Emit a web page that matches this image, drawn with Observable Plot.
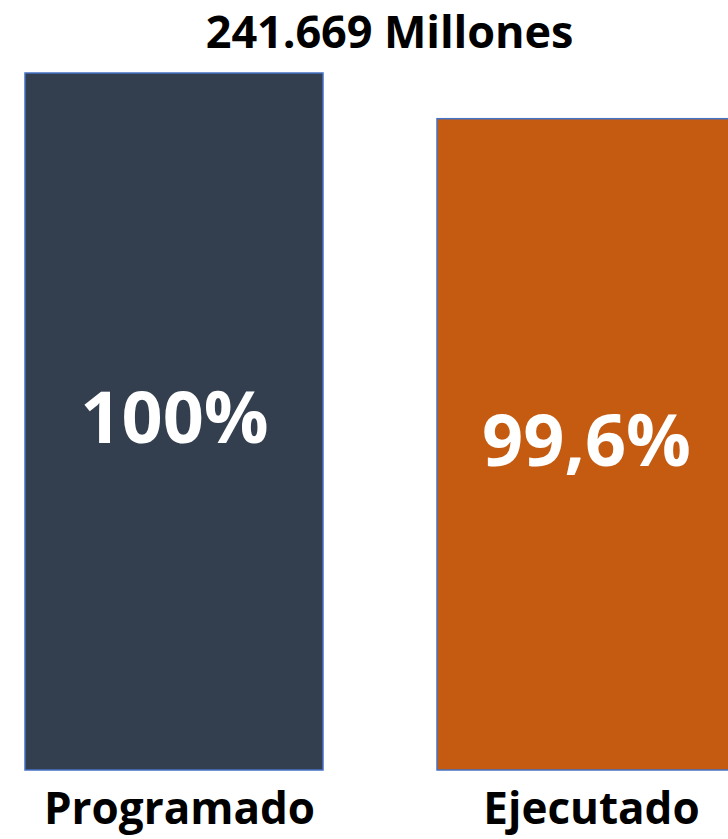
<!DOCTYPE html>
<html>
<head>
<meta charset="utf-8">
<script src="https://cdn.jsdelivr.net/npm/d3@7"></script>
<script src="https://cdn.jsdelivr.net/npm/@observablehq/plot@0.6"></script>
<style>
  html, body { margin: 0; padding: 0; background: #fff; overflow: hidden; }
  #title {
    width: 728px; box-sizing: border-box; padding-left: 51px;
    height: 60px; line-height: 61px; text-align: center;
    font-family: "Open Sans", Lato, sans-serif; font-weight: 700; font-size: 45px; color: #000;
    letter-spacing: -0.1px;
  }
</style>
</head>
<body>
<div id="title">241.669 Millones</div>
<div id="chart"></div>
<script>
const categories = ["Programado", "Ejecutado"];
const values = [100, 99.6];
const labels = ["100%", "99,6%"];
const colors = ["#333F4F", "#C55A11"];
const axisMin = 93.9; // truncated value axis, as in the original

const data = categories.map((c, i) => ({cat: c, value: values[i], label: labels[i], color: colors[i]}));

const chart = Plot.plot({
  width: 728,
  height: 779,
  marginTop: 13,
  marginBottom: 69,
  marginLeft: 0,
  marginRight: 0,
  style: {fontFamily: "'Open Sans', Lato, sans-serif", overflow: "visible"},
  x: {domain: categories, range: [24, 736], paddingInner: 0.276, paddingOuter: 0, label: null},
  y: {domain: [axisMin, 100], axis: null},
  marks: [
    Plot.rectY(data, {x: "cat", y1: axisMin, y2: "value", fill: "color", stroke: "#4472C4", strokeWidth: 1.5}),
    Plot.text(data, {x: "cat", y: d => (axisMin + d.value) / 2, text: "label", fill: "white", fontSize: 72, fontWeight: 700, dy: -2}),
    Plot.axisX({tickSize: 0, tickPadding: 22, dx: 5, fontSize: 44, fontWeight: 700, fill: "#000", label: null})
  ]
});
document.getElementById("chart").appendChild(chart);
</script>
</body>
</html>
